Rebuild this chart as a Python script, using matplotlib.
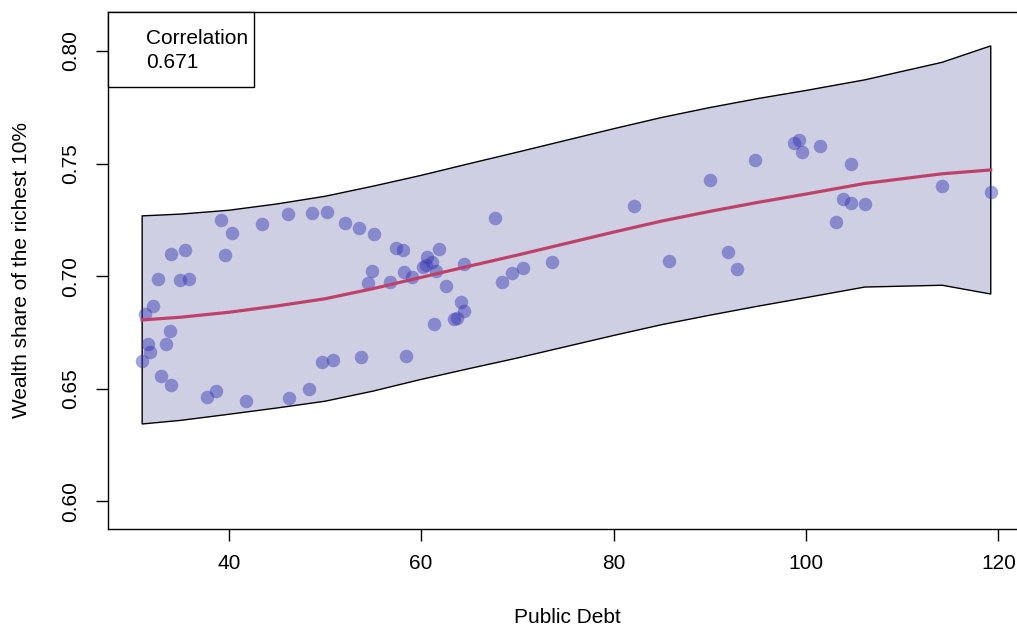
import matplotlib
matplotlib.use("Agg")
import matplotlib.pyplot as plt
from matplotlib.patches import Rectangle

plt.rcParams['font.family'] = ['Liberation Sans', 'DejaVu Sans']

# scatter data: public debt vs wealth share of the top 10%
public_debt = [39.17, 40.38, 43.43, 46.16, 48.66, 50.16, 52.06, 53.54, 55.10, 57.43,
               58.12, 34.04, 35.46, 39.58, 32.69, 34.98, 35.91, 32.13, 31.30, 33.90,
               31.58, 33.52, 31.82, 30.99, 33.00, 33.97, 37.71, 38.72, 41.84, 46.31,
               48.32, 49.67, 50.81, 53.75, 58.43, 54.90, 54.52, 56.74, 58.19, 59.02,
               67.65, 82.07, 61.86, 60.61, 61.17, 60.20, 60.55, 61.49, 64.50, 62.59,
               68.35, 69.39, 70.56, 73.61, 85.74, 64.19, 64.40, 63.46, 63.77, 61.38,
               89.97, 94.71, 98.80, 99.32, 99.60, 101.47, 104.63, 103.83, 104.63, 106.11,
               103.07, 114.15, 119.21, 91.87, 92.78]
wealth_share = [0.7250, 0.7192, 0.7233, 0.7275, 0.7279, 0.7284, 0.7235, 0.7213, 0.7187, 0.7127,
                0.7116, 0.7097, 0.7116, 0.7094, 0.6986, 0.6984, 0.6989, 0.6868, 0.6832, 0.6757,
                0.6700, 0.6699, 0.6665, 0.6625, 0.6557, 0.6517, 0.6462, 0.6489, 0.6447, 0.6460,
                0.6499, 0.6620, 0.6627, 0.6640, 0.6644, 0.7024, 0.6968, 0.6976, 0.7020, 0.6998,
                0.7260, 0.7312, 0.7122, 0.7087, 0.7063, 0.7042, 0.7050, 0.7023, 0.7053, 0.6955,
                0.6973, 0.7013, 0.7036, 0.7064, 0.7066, 0.6887, 0.6847, 0.6809, 0.6814, 0.6786,
                0.7429, 0.7516, 0.7590, 0.7603, 0.7550, 0.7579, 0.7500, 0.7341, 0.7324, 0.7319,
                0.7242, 0.7402, 0.7375, 0.7109, 0.7032]

# smoothed fit and its confidence band
band_x = [31, 35, 40, 45, 50, 55, 60, 65, 70, 75, 80, 85, 90, 95, 100, 106.1, 114.15, 119.2]
fit_y = [0.6806, 0.6818, 0.6840, 0.6868, 0.6900, 0.6945, 0.6995, 0.7045, 0.7094, 0.7145,
         0.7196, 0.7245, 0.7288, 0.7328, 0.7365, 0.7412, 0.7455, 0.7472]
band_upper = [0.7268, 0.7276, 0.7293, 0.7321, 0.7355, 0.7400, 0.7448, 0.7500, 0.7551, 0.7603,
              0.7655, 0.7705, 0.7749, 0.7789, 0.7825, 0.7872, 0.7950, 0.8023]
band_lower = [0.6344, 0.6360, 0.6387, 0.6415, 0.6445, 0.6490, 0.6542, 0.6590, 0.6637, 0.6687,
              0.6737, 0.6785, 0.6827, 0.6867, 0.6905, 0.6952, 0.6960, 0.6921]

correlation = "0.671"
x_ticks = [40, 60, 80, 100, 120]
y_ticks = [0.60, 0.65, 0.70, 0.75, 0.80]

fig = plt.figure(figsize=(10.17, 6.28), dpi=100)
W, H = 1017, 628
ax = fig.add_axes([108.3 / W, (H - 528.7) / H, (1022.7 - 108.3) / W, (528.7 - 12.3) / H])

# band polygon with black outline
poly_x = band_x + band_x[::-1]
poly_y = band_upper + band_lower[::-1]
ax.fill(poly_x, poly_y, facecolor='#CFCFE4', edgecolor='black', linewidth=1.0, zorder=1)

ax.scatter(public_debt, wealth_share, s=95, color=(0.2, 0.2, 0.7), alpha=0.45,
           linewidths=0, zorder=2)
ax.plot(band_x, fit_y, color='#BE4169', linewidth=2.3, zorder=3)

ax.set_xlim(27.48, 122.52)
ax.set_ylim(0.5879, 0.8172)
ax.set_xticks(x_ticks)
ax.set_yticks(y_ticks)
ax.set_yticklabels([f"{v:.2f}" for v in y_ticks], rotation=90, va='center')
ax.tick_params(direction='out', length=8.5, width=1, labelsize=15)
ax.tick_params(axis='x', pad=10)
ax.tick_params(axis='y', pad=12)
for sp in ax.spines.values():
    sp.set_linewidth(1)

ax.set_xlabel("Public Debt", fontsize=15, va='center')
ax.set_ylabel("Wealth share of the richest 10%", fontsize=15, va='center')
ax.xaxis.set_label_coords(0.5016, -0.171)
ax.yaxis.set_label_coords(-0.0944, 0.5)

# correlation box in the top left corner
ax.add_patch(Rectangle((0, 0.8553), 0.1593, 0.1447, transform=ax.transAxes,
                       facecolor='white', edgecolor='black', linewidth=1, zorder=4,
                       clip_on=False))
ax.text(0.0412, 0.9483, "Correlation", transform=ax.transAxes, fontsize=15,
        va='center', ha='left', zorder=5)
ax.text(0.0412, 0.9036, correlation, transform=ax.transAxes, fontsize=15,
        va='center', ha='left', zorder=5)

fig.savefig("out.png", dpi=100)
